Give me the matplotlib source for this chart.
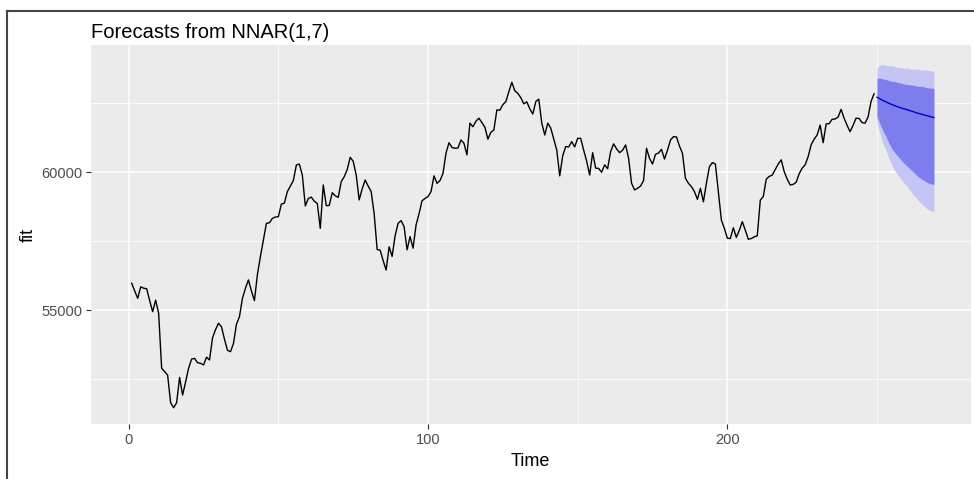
import matplotlib
matplotlib.use("Agg")
import matplotlib.pyplot as plt
from matplotlib.lines import Line2D
from matplotlib.ticker import FixedLocator

# ---------------- data ----------------
observed = [
    55980, 55700, 55435, 55850, 55800, 55780, 55350, 54950, 55370, 54890,
    52900, 52780, 52650, 51650, 51470, 51650, 52570, 51930, 52400, 52900,
    53230, 53260, 53100, 53080, 53020, 53300, 53200, 54000, 54300, 54530,
    54400, 53950, 53550, 53500, 53800, 54500, 54770, 55435, 55800, 56100,
    55700, 55350, 56300, 56950, 57550, 58150, 58170, 58330, 58380, 58390,
    58850, 58880, 59300, 59500, 59700, 60260, 60300, 59900, 58780, 59050,
    59100, 58950, 58870, 57970, 59540, 58790, 58800, 59260, 59150, 59090,
    59660, 59840, 60100, 60540, 60400, 59900, 59000, 59400, 59720, 59500,
    59300, 58500, 57200, 57180, 56800, 56460, 57300, 56950, 57700, 58150,
    58250, 58030, 57190, 57670, 57250, 58090, 58500, 58970, 59050, 59120,
    59300, 59870, 59600, 59700, 59960, 60690, 61070, 60900, 60870, 60880,
    61170, 61050, 60630, 61780, 61650, 61850, 61960, 61800, 61630, 61200,
    61450, 61530, 62260, 62250, 62450, 62560, 62920, 63260, 62950, 62860,
    62700, 62480, 62550, 62300, 62110, 62560, 62650, 61780, 61350, 61780,
    61600, 61200, 60810, 59870, 60600, 60930, 60920, 61110, 60920, 61230,
    61230, 60800, 60400, 59900, 60710, 60150, 60140, 60000, 60270, 60130,
    60750, 61030, 60850, 60710, 60800, 60990, 60510, 59600, 59360, 59420,
    59500, 59700, 60870, 60500, 60300, 60650, 60700, 60830, 60480, 60800,
    61170, 61290, 61280, 60950, 60690, 59780, 59600, 59480, 59300, 59020,
    59420, 58930, 59600, 60200, 60350, 60300, 59300, 58270, 57970, 57610,
    57600, 57990, 57640, 57900, 58210, 57900, 57573, 57600, 57660, 57700,
    58990, 59120, 59750, 59850, 59900, 60100, 60300, 60450, 60020, 59750,
    59540, 59560, 59640, 59950, 60150, 60270, 60570, 61000, 61200, 61350,
    61710, 61070, 61750, 61760, 61920, 61930, 62000, 62280, 61960, 61700,
    61470, 61700, 61960, 61950, 61800, 61780, 62000, 62560, 62840,
]
obs_time = list(range(1, len(observed) + 1))

fc_time = list(range(250, 270))
fc_mean = [62720, 62660, 62600, 62550, 62500, 62450, 62410, 62370, 62330, 62300,
           62270, 62230, 62200, 62160, 62130, 62100, 62070, 62040, 62010, 61980]
lo80 = [62020, 61750, 61500, 61300, 61050, 60850, 60700, 60580, 60450, 60330,
        60230, 60130, 60030, 59920, 59820, 59750, 59680, 59620, 59580, 59560]
hi80 = [63400, 63420, 63380, 63360, 63320, 63290, 63290, 63250, 63230, 63200,
        63180, 63170, 63160, 63130, 63110, 63120, 63080, 63060, 63050, 63040]
lo95 = [61770, 61400, 61050, 60800, 60500, 60250, 60050, 59900, 59750, 59620,
        59500, 59350, 59200, 59080, 58950, 58850, 58750, 58650, 58600, 58580]
hi95 = [63770, 63880, 63900, 63870, 63850, 63860, 63830, 63800, 63790, 63760,
        63780, 63750, 63730, 63740, 63720, 63700, 63720, 63690, 63680, 63650]

x_major = [0, 100, 200]
x_minor = [50, 150, 250]
y_major = [55000, 60000]
y_minor = [52500, 57500, 62500]
title = "Forecasts from NNAR(1,7)"
xlabel = "Time"
ylabel = "fit"

# ---------------- figure ----------------
W, H = 974, 479
DPI = 100
plt.rcParams['font.family'] = ['Liberation Sans', 'DejaVu Sans']
fig = plt.figure(figsize=(W / DPI, H / DPI), dpi=DPI)
fig.patch.set_facecolor('white')

left, right, top, bottom = 91, 970.7, 45.3, 424.3
ax = fig.add_axes([left / W, 1 - bottom / H, (right - left) / W, (bottom - top) / H])
ax.set_facecolor('#EBEBEB')
for s in ax.spines.values():
    s.set_visible(False)

ax.set_xlim(-12.6, 281.3)
ax.set_ylim(50870, 64600)

ax.xaxis.set_major_locator(FixedLocator(x_major))
ax.xaxis.set_minor_locator(FixedLocator(x_minor))
ax.yaxis.set_major_locator(FixedLocator(y_major))
ax.yaxis.set_minor_locator(FixedLocator(y_minor))
ax.set_xticklabels([str(v) for v in x_major])
ax.set_yticklabels([str(v) for v in y_major])

ax.grid(which='major', color='white', linewidth=1.1)
ax.grid(which='minor', color='white', linewidth=0.55)
ax.set_axisbelow(True)
ax.tick_params(which='major', length=3.5, width=0.8, color='#333333',
               labelsize=10.5, labelcolor='#4D4D4D', pad=3)
ax.tick_params(which='minor', length=0)

ax.fill_between(fc_time, lo95, hi95, color='#C4C4F5', linewidth=0, zorder=2)
ax.fill_between(fc_time, lo80, hi80, color='#7D7DEE', linewidth=0, zorder=3)
ax.plot(fc_time, fc_mean, color='#0000CC', linewidth=1.0, zorder=4)
ax.plot(obs_time, observed, color='black', linewidth=1.0, zorder=4)

fig.text(91 / W, 1 - 38 / H, title, fontsize=14.5, color='black', ha='left', va='baseline')
fig.text(530 / W, 1 - 462 / H, xlabel, fontsize=13, color='black', ha='center', va='center')
fig.text(28 / W, 1 - 235 / H, ylabel, fontsize=13, color='black', ha='center', va='center',
         rotation=90)

# screenshot frame (left and top edges)
fig.add_artist(Line2D([7 / W, 7 / W], [0, 1 - 11 / H], transform=fig.transFigure,
                      color='#444444', linewidth=1.5))
fig.add_artist(Line2D([7 / W, 1], [1 - 11 / H, 1 - 11 / H], transform=fig.transFigure,
                      color='#444444', linewidth=1.5))

fig.savefig('out.png', dpi=DPI)
